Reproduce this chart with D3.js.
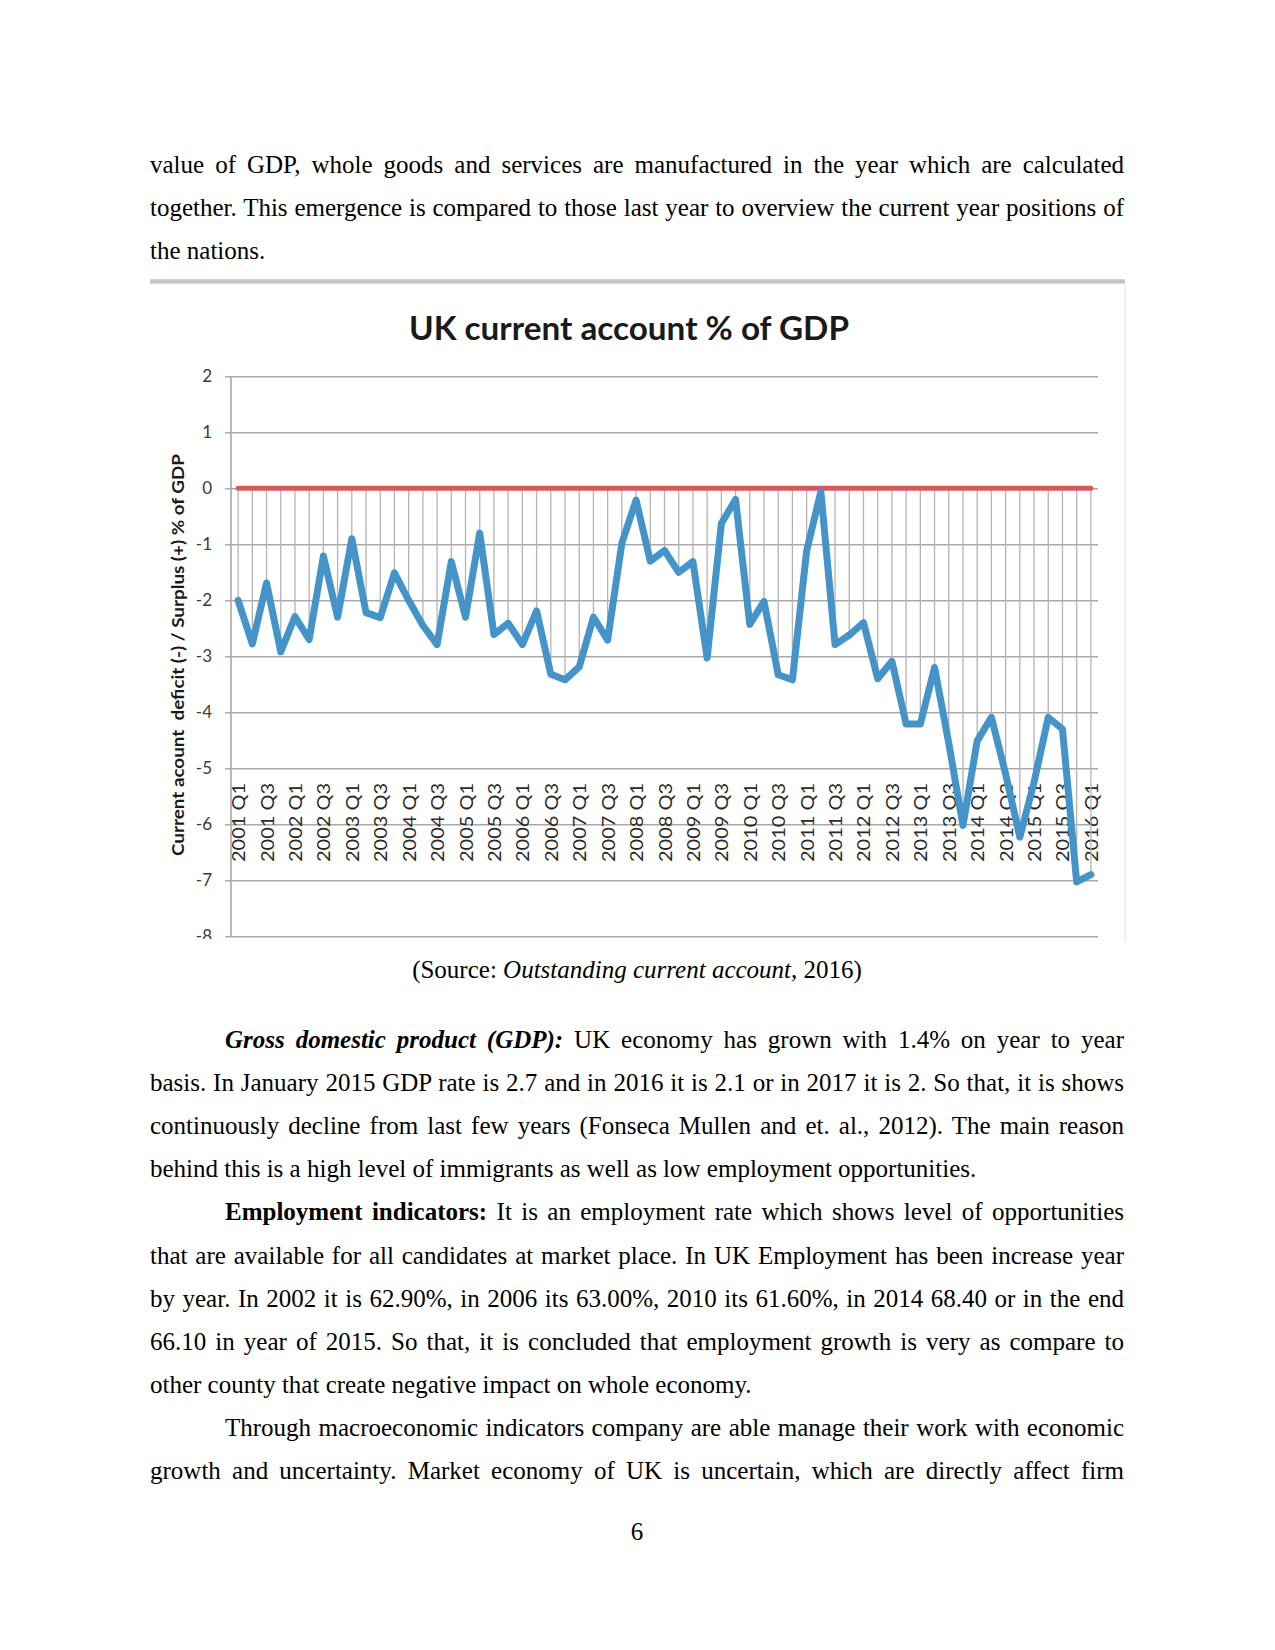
<!DOCTYPE html>
<html><head><meta charset="utf-8">
<script src="https://cdn.jsdelivr.net/npm/d3@7"></script>
<style>
body{margin:0;background:#fff;}
#page{position:relative;width:1275px;height:1650px;overflow:hidden;font-family:"Liberation Serif","Times New Roman",serif;font-size:25px;color:#000;background:#fff;}
.ln{position:absolute;line-height:25px;height:25px;white-space:nowrap;}
.j{text-align:justify;text-align-last:justify;white-space:normal;}
.c{text-align:center;}
svg{position:absolute;left:0;top:0;}
</style></head><body><div id="page"></div>
<script>
// ---------- data ----------
const categories = [
 "2001 Q1","2001 Q2","2001 Q3","2001 Q4","2002 Q1","2002 Q2","2002 Q3","2002 Q4",
 "2003 Q1","2003 Q2","2003 Q3","2003 Q4","2004 Q1","2004 Q2","2004 Q3","2004 Q4",
 "2005 Q1","2005 Q2","2005 Q3","2005 Q4","2006 Q1","2006 Q2","2006 Q3","2006 Q4",
 "2007 Q1","2007 Q2","2007 Q3","2007 Q4","2008 Q1","2008 Q2","2008 Q3","2008 Q4",
 "2009 Q1","2009 Q2","2009 Q3","2009 Q4","2010 Q1","2010 Q2","2010 Q3","2010 Q4",
 "2011 Q1","2011 Q2","2011 Q3","2011 Q4","2012 Q1","2012 Q2","2012 Q3","2012 Q4",
 "2013 Q1","2013 Q2","2013 Q3","2013 Q4","2014 Q1","2014 Q2","2014 Q3","2014 Q4",
 "2015 Q1","2015 Q2","2015 Q3","2015 Q4","2016 Q1"];
const currentAccount = [
 -2.0, -2.78, -1.69, -2.92, -2.29, -2.70, -1.21, -2.30, -0.90, -2.22,
 -2.31, -1.51, -2.0, -2.45, -2.79, -1.31, -2.30, -0.80, -2.61, -2.41,
 -2.79, -2.19, -3.32, -3.42, -3.19, -2.30, -2.71, -0.98, -0.21, -1.30,
 -1.11, -1.50, -1.31, -3.03, -0.63, -0.20, -2.43, -2.02, -3.33, -3.42,
 -1.12, -0.06, -2.79, -2.62, -2.40, -3.40, -3.09, -4.21, -4.21, -3.20,
 -4.55, -6.02, -4.51, -4.09, -5.10, -6.23, -5.25, -4.09, -4.30, -7.03, -6.90];
const zeroLine = categories.map(() => 0);
const xTickLabels = ["2001 Q1","2001 Q3","2002 Q1","2002 Q3","2003 Q1","2003 Q3","2004 Q1","2004 Q3",
 "2005 Q1","2005 Q3","2006 Q1","2006 Q3","2007 Q1","2007 Q3","2008 Q1","2008 Q3","2009 Q1","2009 Q3",
 "2010 Q1","2010 Q3","2011 Q1","2011 Q3","2012 Q1","2012 Q3","2013 Q1","2013 Q3","2014 Q1","2014 Q3",
 "2015 Q1","2015 Q3","2016 Q1"];
const yTicks = [2, 1, 0, -1, -2, -3, -4, -5, -6, -7, -8];
const chartTitle = "UK current account % of GDP";
const yAxisTitle = "Current acount  deficit (-) / Surplus (+) % of GDP";

// ---------- page text ----------
const page = d3.select("#page");
const L = 150, W = 974, IND = 75;
const bodyLines = [
 {h:"value of GDP, whole goods and services are manufactured in the year which are calculated", b:173, j:1},
 {h:"together. This emergence is compared to those last year to overview the current year positions of", b:216, j:1},
 {h:"the nations.", b:259},
 {h:"<b><i>Gross domestic product (GDP):</i></b> UK economy has grown with 1.4% on year to year", b:1048, j:1, i:1},
 {h:"basis. In January 2015 GDP rate is 2.7 and in 2016 it is 2.1 or in 2017 it is 2. So that, it is shows", b:1091, j:1},
 {h:"continuously decline from last few years (Fonseca Mullen and et. al., 2012). The main reason", b:1134, j:1},
 {h:"behind this is a high level of immigrants as well as low employment opportunities.", b:1177},
 {h:"<b>Employment indicators:</b> It is an employment rate which shows level of opportunities", b:1220, j:1, i:1},
 {h:"that are available for all candidates at market place. In UK Employment has been increase year", b:1264, j:1},
 {h:"by year. In 2002 it is 62.90%, in 2006 its 63.00%, 2010 its 61.60%, in 2014 68.40 or in the end", b:1307, j:1},
 {h:"66.10 in year of 2015. So that, it is concluded that employment growth is very as compare to", b:1350, j:1},
 {h:"other county that create negative impact on whole economy.", b:1393},
 {h:"Through macroeconomic indicators company are able manage their work with economic", b:1436, j:1, i:1},
 {h:"growth and uncertainty. Market economy of UK is uncertain, which are directly affect firm", b:1479, j:1},
 {h:"(Source: <i>Outstanding current account,</i> 2016)", b:978, c:1},
 {h:"6", b:1540, c:1}
];
bodyLines.forEach(d => {
  page.append("div")
    .attr("class", "ln" + (d.j ? " j" : "") + (d.c ? " c" : ""))
    .style("left", (d.i ? L + IND : L) + "px")
    .style("width", (d.i ? W - IND : W) + "px")
    .style("top", (d.b - 21) + "px")
    .html(d.h);
});

// ---------- chart ----------
const svg = page.append("svg").attr("width", 1275).attr("height", 1650);
svg.append("defs").append("clipPath").attr("id", "chartClip")
  .append("rect").attr("x", 140).attr("y", 280).attr("width", 990).attr("height", 659);

// frame of the pasted chart image
svg.append("rect").attr("x", 150).attr("y", 279).attr("width", 975).attr("height", 5).attr("fill", "#d4d4d4");
svg.append("rect").attr("x", 150).attr("y", 280.5).attr("width", 975).attr("height", 2).attr("fill", "#bdbdbd");
svg.append("line").attr("x1", 1125).attr("x2", 1125).attr("y1", 284).attr("y2", 942)
  .attr("stroke", "#ececec").attr("stroke-width", 1.5);

const g = svg.append("g").attr("clip-path", "url(#chartClip)");
const FONT = "Lato, 'Open Sans', sans-serif";

const x = d3.scalePoint().domain(categories).range([231, 1098]).padding(0.5);
const y = d3.scaleLinear().domain([-8, 2]).range([936.3, 376.3]);

// title
g.append("text").attr("x", 629).attr("y", 340).attr("text-anchor", "middle")
  .attr("font-family", FONT).attr("font-weight", "bold").attr("font-size", 33)
  .attr("fill", "#1a1a1a").attr("textLength", 440).attr("lengthAdjust", "spacingAndGlyphs")
  .text(chartTitle);

// horizontal gridlines + ticks
const yAxis = d3.axisLeft(y).tickValues(yTicks).tickSize(-(1098 - 225)).tickFormat(d => String(d)).tickPadding(13);
const ya = g.append("g").attr("transform", "translate(225,0)").call(yAxis);
ya.select(".domain").remove();
ya.selectAll(".tick line").attr("stroke", "#a9a9a9").attr("stroke-width", 1.6);
ya.selectAll(".tick text").attr("font-family", FONT).attr("font-size", 17).attr("fill", "#3a3a3a")
  .attr("x", -13);
// vertical axis line
g.append("line").attr("x1", 231).attr("x2", 231).attr("y1", y(2)).attr("y2", y(-8))
  .attr("stroke", "#a9a9a9").attr("stroke-width", 1.6);

// y-axis title
g.append("text").attr("transform", "translate(184," + 655 + ") rotate(-90)")
  .attr("text-anchor", "middle").attr("font-family", FONT).attr("font-weight", "bold")
  .attr("font-size", 17).attr("fill", "#1a1a1a")
  .attr("textLength", 402).attr("lengthAdjust", "spacingAndGlyphs")
  .style("white-space", "pre").text(yAxisTitle);

// category labels (rotated, inside the plot)
g.append("g").selectAll("text").data(xTickLabels).join("text")
  .attr("transform", d => "translate(" + (x(d) + 7) + ",862) rotate(-90)")
  .attr("font-family", FONT).attr("font-size", 18).attr("fill", "#2a2a2a")
  .attr("textLength", 79).attr("lengthAdjust", "spacingAndGlyphs")
  .text(d => d);

// high-low lines between the two series
g.append("g").selectAll("line").data(categories).join("line")
  .attr("x1", d => x(d)).attr("x2", d => x(d))
  .attr("y1", (d, i) => y(zeroLine[i])).attr("y2", (d, i) => y(currentAccount[i]))
  .attr("stroke", "#b3b3b3").attr("stroke-width", 1.3);

// zero series
const line = d3.line().x(d => x(d[0])).y(d => y(d[1]));
g.append("path").datum(categories.map((c, i) => [c, zeroLine[i]]))
  .attr("d", line).attr("fill", "none").attr("stroke", "#d9595a")
  .attr("stroke-width", 5).attr("stroke-linecap", "round");

// current account series
g.append("path").datum(categories.map((c, i) => [c, currentAccount[i]]))
  .attr("d", line).attr("fill", "none").attr("stroke", "#4494c9")
  .attr("stroke-width", 7).attr("stroke-linejoin", "round").attr("stroke-linecap", "round");
</script>
</body></html>
